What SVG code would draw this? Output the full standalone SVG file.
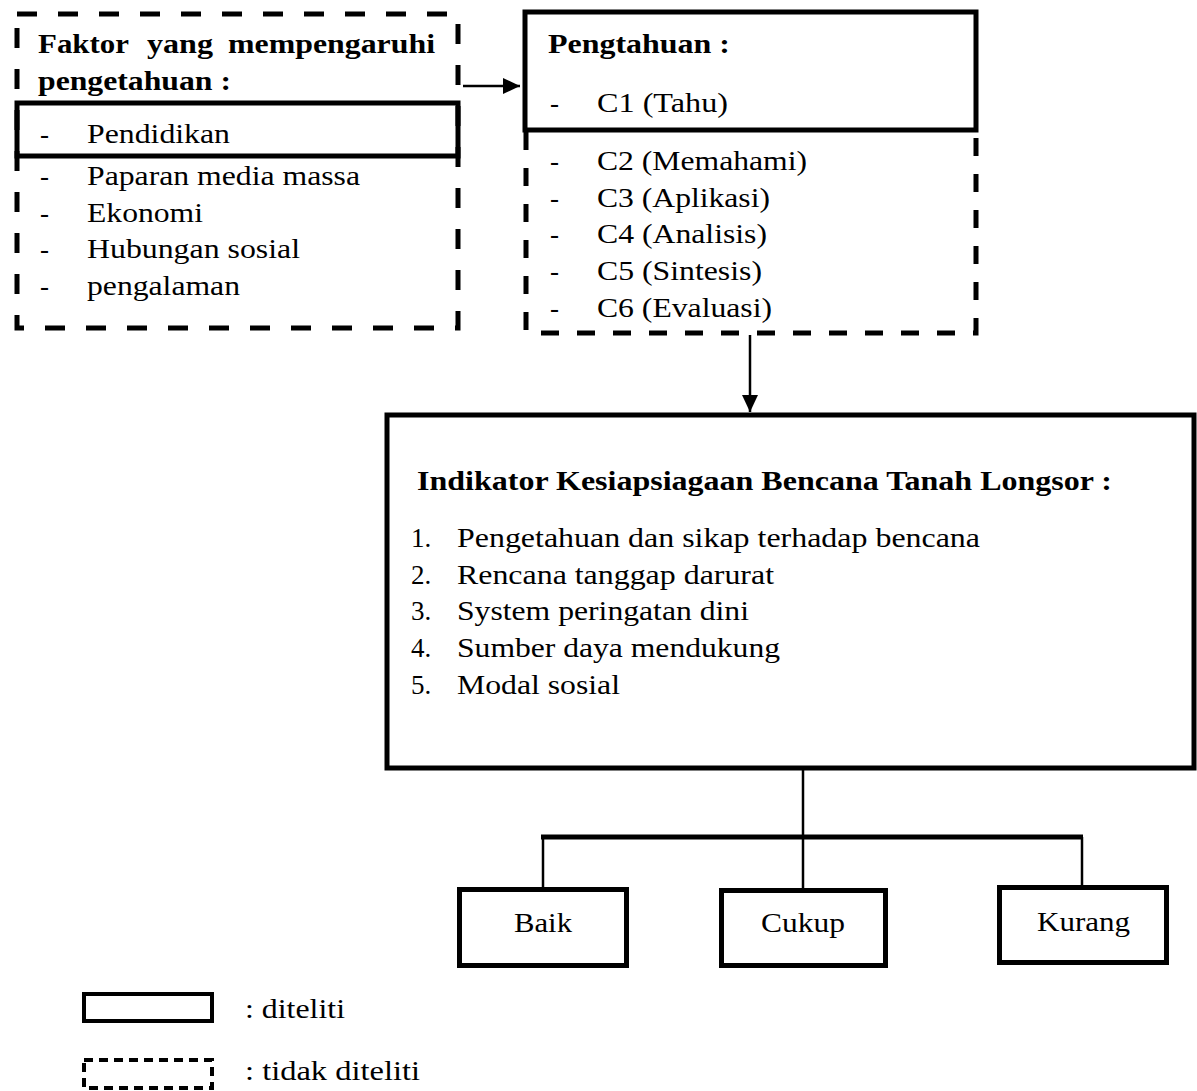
<svg xmlns="http://www.w3.org/2000/svg" width="1197" height="1091" viewBox="0 0 1197 1091">
<style>
text{font-family:"Liberation Serif","Times New Roman",serif;font-size:27px;fill:#000}
.b{font-weight:bold}
.solid{fill:none;stroke:#000;stroke-width:5}
.dash{fill:none;stroke:#000;stroke-width:5;stroke-dasharray:20 21}
.dash2{fill:none;stroke:#000;stroke-width:5;stroke-dasharray:18 18}
.line{fill:none;stroke:#000;stroke-width:2.5}
.bar{fill:none;stroke:#000;stroke-width:5}
</style>
<defs>
<marker id="ah" markerUnits="userSpaceOnUse" markerWidth="18" markerHeight="16" refX="17" refY="8" orient="auto">
<path d="M0,0 L17,8 L0,16 Z" fill="#000"/>
</marker>
</defs>
<rect width="1197" height="1091" fill="#fff"/>

<g id="faktor">
<rect class="dash" x="17" y="14" width="441" height="314"/>
<rect class="solid" x="17" y="103" width="441" height="53"/>
<text class="b" x="38" y="53" textLength="91" lengthAdjust="spacingAndGlyphs">Faktor</text>
<text class="b" x="147" y="53" textLength="66" lengthAdjust="spacingAndGlyphs">yang</text>
<text class="b" x="228" y="53" textLength="207" lengthAdjust="spacingAndGlyphs">mempengaruhi</text>
<text class="b" x="38" y="90" textLength="193" lengthAdjust="spacingAndGlyphs">pengetahuan :</text>
<text x="40" y="143">-</text>
<text x="87" y="143" textLength="143" lengthAdjust="spacingAndGlyphs">Pendidikan</text>
<text x="40" y="185">-</text>
<text x="87" y="185" textLength="273" lengthAdjust="spacingAndGlyphs">Paparan media massa</text>
<text x="40" y="222">-</text>
<text x="87" y="222" textLength="116" lengthAdjust="spacingAndGlyphs">Ekonomi</text>
<text x="40" y="258">-</text>
<text x="87" y="258" textLength="213" lengthAdjust="spacingAndGlyphs">Hubungan sosial</text>
<text x="40" y="295">-</text>
<text x="87" y="295" textLength="153" lengthAdjust="spacingAndGlyphs">pengalaman</text>
</g>

<g id="pengetahuan">
<rect class="solid" x="525" y="12" width="451" height="118"/>
<path class="dash2" d="M526,132 V333 H976 V132"/>
<text class="b" x="548" y="53" textLength="182" lengthAdjust="spacingAndGlyphs">Pengtahuan :</text>
<text x="550" y="112">-</text>
<text x="597" y="112" textLength="131" lengthAdjust="spacingAndGlyphs">C1 (Tahu)</text>
<text x="550" y="170">-</text>
<text x="597" y="170" textLength="210" lengthAdjust="spacingAndGlyphs">C2 (Memahami)</text>
<text x="550" y="207">-</text>
<text x="597" y="207" textLength="173" lengthAdjust="spacingAndGlyphs">C3 (Aplikasi)</text>
<text x="550" y="243">-</text>
<text x="597" y="243" textLength="170" lengthAdjust="spacingAndGlyphs">C4 (Analisis)</text>
<text x="550" y="280">-</text>
<text x="597" y="280" textLength="165" lengthAdjust="spacingAndGlyphs">C5 (Sintesis)</text>
<text x="550" y="317">-</text>
<text x="597" y="317" textLength="175" lengthAdjust="spacingAndGlyphs">C6 (Evaluasi)</text>
</g>

<g id="indikator">
<rect class="solid" x="387" y="415" width="807" height="353"/>
<text class="b" x="417" y="490" textLength="695" lengthAdjust="spacingAndGlyphs">Indikator Kesiapsiagaan Bencana Tanah Longsor :</text>
<text x="411" y="547">1.</text>
<text x="457" y="547" textLength="523" lengthAdjust="spacingAndGlyphs">Pengetahuan dan sikap terhadap bencana</text>
<text x="411" y="584">2.</text>
<text x="457" y="584" textLength="317" lengthAdjust="spacingAndGlyphs">Rencana tanggap darurat</text>
<text x="411" y="620">3.</text>
<text x="457" y="620" textLength="292" lengthAdjust="spacingAndGlyphs">System peringatan dini</text>
<text x="411" y="657">4.</text>
<text x="457" y="657" textLength="323" lengthAdjust="spacingAndGlyphs">Sumber daya mendukung</text>
<text x="411" y="694">5.</text>
<text x="457" y="694" textLength="163" lengthAdjust="spacingAndGlyphs">Modal sosial</text>
</g>

<g id="baik">
<rect class="solid" x="459.5" y="889.5" width="167" height="76"/>
<text x="514" y="932" textLength="58" lengthAdjust="spacingAndGlyphs">Baik</text>
</g>
<g id="cukup">
<rect class="solid" x="721.5" y="890.5" width="164" height="75"/>
<text x="761" y="932" textLength="84" lengthAdjust="spacingAndGlyphs">Cukup</text>
</g>
<g id="kurang">
<rect class="solid" x="999.5" y="887.5" width="167" height="75"/>
<text x="1037" y="931" textLength="93" lengthAdjust="spacingAndGlyphs">Kurang</text>
</g>

<g id="legend">
<rect fill="none" stroke="#000" stroke-width="4" x="84" y="994" width="128" height="27"/>
<text x="245" y="1018" textLength="100" lengthAdjust="spacingAndGlyphs">: diteliti</text>
<rect fill="none" stroke="#000" stroke-width="4" stroke-dasharray="9 6" x="84" y="1060" width="128" height="28"/>
<text x="245" y="1080" textLength="175" lengthAdjust="spacingAndGlyphs">: tidak diteliti</text>
</g>

<g id="connectors">
<line class="line" x1="463" y1="86" x2="520" y2="86" marker-end="url(#ah)"/>
<line class="line" x1="750" y1="335" x2="750" y2="412" marker-end="url(#ah)"/>
<line class="line" x1="803" y1="770" x2="803" y2="837"/>
<line class="bar" x1="541" y1="837" x2="1083" y2="837"/>
<line class="line" x1="543" y1="837" x2="543" y2="888"/>
<line class="line" x1="803" y1="837" x2="803" y2="889"/>
<line class="line" x1="1082" y1="837" x2="1082" y2="886"/>
</g>
</svg>
